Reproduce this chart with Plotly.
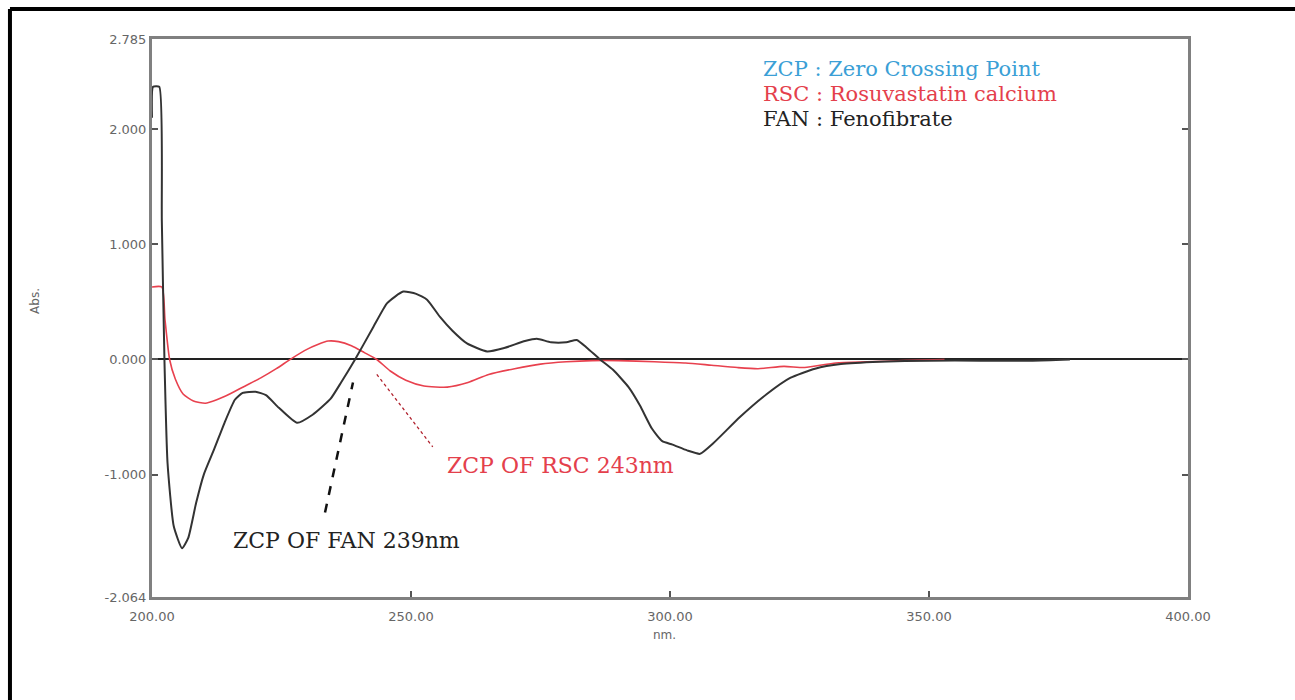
import plotly.graph_objects as go

# First-derivative UV spectra (wavelength in nm, amplitude in Abs.)
fan_nm = [200.0, 200.2, 201.4, 201.9, 202.4, 203.0, 204.2, 205.8, 207.0, 208.5,
          210.0, 212.0, 214.0, 216.0, 217.5, 220.0, 222.0, 224.5, 228.0, 231.0,
          234.5, 236.5, 239.2, 242.7, 245.4, 248.5, 251.0, 253.1, 255.6, 258.0,
          260.8, 264.7, 268.0, 272.0, 274.3, 277.0, 280.0, 282.0, 284.0, 286.5,
          289.0, 292.0, 294.2, 296.5, 298.5, 300.5, 303.3, 305.8, 308.3,
          313.5, 318.7, 323.2, 328.0, 333.0, 340.5, 350.0, 360.0, 370.0, 377.2]
fan_abs = [2.10, 2.37, 2.37, 1.20, 0.00, -0.90, -1.45, -1.64, -1.55, -1.25,
           -1.00, -0.78, -0.55, -0.35, -0.29, -0.28, -0.31, -0.42, -0.55, -0.48,
           -0.34, -0.20, 0.00, 0.28, 0.49, 0.59, 0.57, 0.52, 0.37, 0.25,
           0.14, 0.07, 0.10, 0.16, 0.18, 0.15, 0.15, 0.17, 0.10, 0.00,
           -0.09, -0.24, -0.40, -0.60, -0.71, -0.74, -0.79, -0.82, -0.73,
           -0.50, -0.30, -0.16, -0.08, -0.04, -0.02, -0.01, -0.01, -0.01, 0.00]

rsc_nm = [200.0, 201.9, 202.5, 203.4, 204.5, 206.0, 208.0, 210.3, 212.5, 215.0,
          218.0, 221.0, 224.0, 227.0, 230.0, 232.0, 234.0, 236.0, 238.5, 241.0,
          243.4, 246.0, 249.0, 252.5, 257.0, 261.0, 265.0, 270.0, 275.0, 280.0,
          285.0, 290.0, 297.0, 303.0, 308.0, 313.0, 317.0, 322.0, 326.0, 332.0,
          338.0, 345.0, 353.0]
rsc_abs = [0.63, 0.63, 0.35, 0.00, -0.17, -0.30, -0.36, -0.38, -0.35, -0.30,
           -0.23, -0.16, -0.08, 0.01, 0.09, 0.13, 0.16, 0.155, 0.12, 0.06,
           0.00, -0.10, -0.18, -0.23, -0.24, -0.20, -0.13, -0.08, -0.04, -0.02,
           -0.01, -0.01, -0.02, -0.03, -0.05, -0.07, -0.08, -0.06, -0.07, -0.03,
           -0.02, -0.01, 0.00]

x_ticks = [200, 250, 300, 350, 400]
x_tick_text = ["200.00", "250.00", "300.00", "350.00", "400.00"]
y_ticks = [-2.064, -1, 0, 1, 2, 2.785]
y_tick_text = ["-2.064", "-1.000", "0.000", "1.000", "2.000", "2.785"]

# Zero-crossing pointers: (start nm, start Abs) -> (end nm, end Abs)
fan_zcp_line = [(233.4, -1.33), (238.8, -0.20)]
rsc_zcp_line = [(243.4, -0.13), (254.2, -0.76)]

legend_lines = [("ZCP : Zero Crossing Point", "#3b9fd6"),
                ("RSC : Rosuvastatin calcium", "#e4404c"),
                ("FAN : Fenofibrate", "#222222")]

fig = go.Figure()
fig.add_trace(go.Scatter(x=rsc_nm, y=rsc_abs, mode="lines",
                         line=dict(color="#e8414e", width=1.6, shape="spline", smoothing=0.6),
                         showlegend=False, hoverinfo="skip"))
fig.add_trace(go.Scatter(x=fan_nm, y=fan_abs, mode="lines",
                         line=dict(color="#333333", width=2, shape="spline", smoothing=0.5),
                         showlegend=False, hoverinfo="skip"))

# pointer lines to the zero crossings
fig.add_trace(go.Scatter(x=[p[0] for p in fan_zcp_line], y=[p[1] for p in fan_zcp_line],
                         mode="lines", line=dict(color="#111111", width=2.5, dash="dash"),
                         showlegend=False, hoverinfo="skip"))
fig.add_trace(go.Scatter(x=[p[0] for p in rsc_zcp_line], y=[p[1] for p in rsc_zcp_line],
                         mode="lines", line=dict(color="#b0202c", width=1.3, dash="dot"),
                         showlegend=False, hoverinfo="skip"))

annotations = [
    dict(x=237.5, y=-1.574, xref="x", yref="y", text="ZCP OF FAN 239nm", showarrow=False,
         font=dict(family="DejaVu Serif", size=22, color="#222222")),
    dict(x=278.8, y=-0.917, xref="x", yref="y", text="ZCP OF RSC 243nm", showarrow=False,
         font=dict(family="DejaVu Serif", size=22, color="#e4404c")),
    dict(x=-0.121, y=0.53, xref="paper", yref="paper", text="Abs.", showarrow=False,
         textangle=-90, font=dict(family="DejaVu Sans", size=12, color="#666666")),
    dict(x=0.495, y=-0.068, xref="paper", yref="paper", yanchor="middle", text="nm.",
         showarrow=False, font=dict(family="DejaVu Sans", size=12, color="#666666")),
]
legend_y = [0.946, 0.901, 0.857]
for (txt, col), ly in zip(legend_lines, legend_y):
    annotations.append(dict(x=0.588, y=ly, xref="paper", yref="paper", text=txt,
                            showarrow=False, xanchor="left", yanchor="middle",
                            font=dict(family="DejaVu Serif", size=21, color=col)))

# outer frame (top and left edges)
frame = dict(color="black", width=4)
shapes = [
    dict(type="line", xref="paper", yref="paper", x0=-0.1371, x1=1.11, y0=1.0538, y1=1.0538, line=frame),
    dict(type="line", xref="paper", yref="paper", x0=-0.1371, x1=-0.1371, y0=1.0538, y1=-0.19, line=frame),
]

axis_common = dict(showgrid=False, showline=True, linecolor="#808080", linewidth=3,
                   ticks="inside", ticklen=6, tickwidth=1.5, tickcolor="#555555",
                   tickfont=dict(family="DejaVu Sans", size=13, color="#666666"))

fig.update_layout(
    width=1295, height=700,
    margin=dict(l=152, r=107, t=39, b=103),
    paper_bgcolor="white", plot_bgcolor="white",
    xaxis=dict(range=[200, 400], tickvals=x_ticks, ticktext=x_tick_text,
               mirror=True, zeroline=False, ticklabelstandoff=5, **axis_common),
    yaxis=dict(range=[-2.064, 2.785], tickvals=y_ticks, ticktext=y_tick_text,
               mirror="ticks", zeroline=True, zerolinecolor="#222222", zerolinewidth=1.5,
               **axis_common),
    annotations=annotations,
    shapes=shapes,
)

fig.write_html("out.html")
